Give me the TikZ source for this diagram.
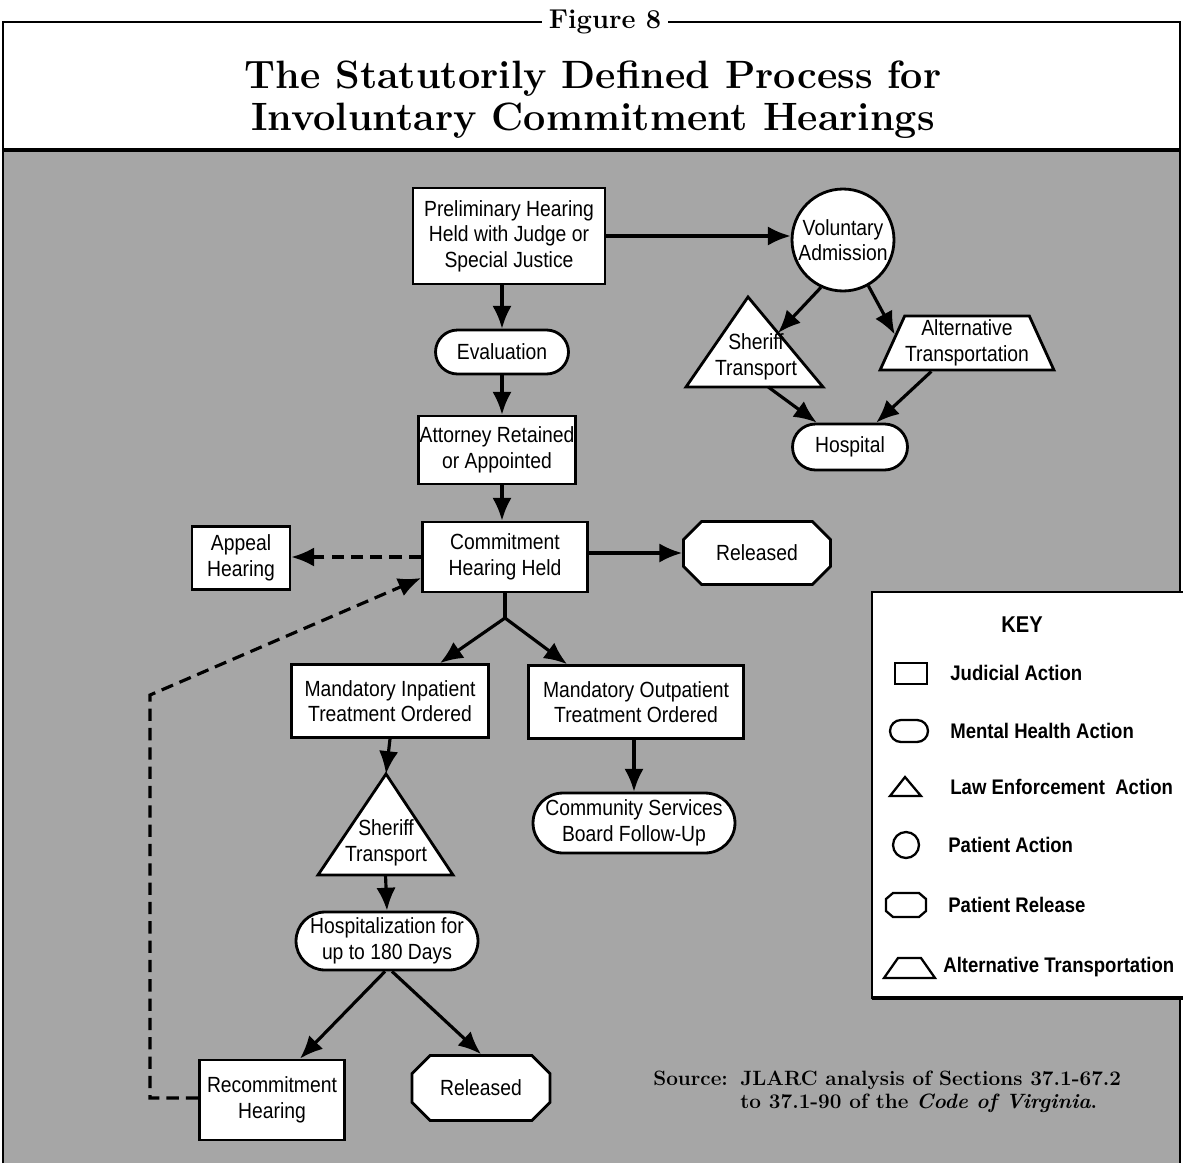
\documentclass[tikz,border=0pt]{standalone}
\usepackage{fontspec}
\usepackage{tikz}
\usetikzlibrary{shapes.geometric,shapes.misc,arrows.meta,calc}
\newfontfamily\boxfont{Liberation Sans}[FakeStretch=0.88]

\tikzset{
  box/.style={draw, line width=1.6pt, fill=white, align=center, inner sep=0pt,
    font=\boxfont\fontsize{12.5}{14.5}\selectfont},
  judicial/.style={box, rectangle},
  mental/.style={box, rounded rectangle},
  patient/.style={box, circle},
  release/.style={box, chamfered rectangle, chamfered rectangle xsep=0.45cm,
    chamfered rectangle ysep=0.2cm},
  altrans/.style={box, trapezium, trapezium left angle=62, trapezium right angle=62,
    trapezium stretches=true},
  tri/.style={draw, line width=1.6pt, fill=white, line join=miter},
  lawtext/.style={align=center, inner sep=0pt, font=\boxfont\fontsize{12.5}{14.5}\selectfont},
  flow/.style={line width=1.8pt, -{Latex[length=13pt,width=11pt]}},
  dashflow/.style={flow, dash pattern=on 7pt off 4pt},
  keytext/.style={anchor=west, inner sep=0pt, font=\boxfont\bfseries\fontsize{12}{14}\selectfont},
  keyicon/.style={draw, line width=1.3pt, fill=white},
}

\begin{document}
\begin{tikzpicture}[x=0.02cm, y=-0.02cm]
    \useasboundingbox (0,0) rectangle (1183,1163);
    % frame, title and grey field
    \fill[black!35] (3,152) rectangle (1180,1163);
    \draw[line width=1.6pt] (3,1163) -- (3,22) -- (1180,22) -- (1180,1163);
    \draw[line width=1.8pt] (3,150) -- (1180,150);
    \node[fill=white, inner sep=4pt, font=\bfseries\fontsize{15.5}{17}\selectfont] (fig) at (605,22) {Figure 8};
    \node[align=center, font=\bfseries\fontsize{22.5}{24}\selectfont] (title) at (593,100)
      {The Statutorily Defined Process for\\Involuntary Commitment Hearings};

    % main column
    \node[judicial, minimum width=3.84cm, minimum height=1.92cm] (prelim) at (509,236)
      {Preliminary Hearing\\Held with Judge or\\Special Justice};
    \node[mental, minimum width=2.66cm, minimum height=0.88cm] (eval) at (502,352) {Evaluation};
    \node[judicial, minimum width=3.14cm, minimum height=1.36cm] (atty) at (497,450)
      {Attorney Retained\\or Appointed};
    \node[judicial, minimum width=3.3cm, minimum height=1.4cm] (comm) at (505,557)
      {Commitment\\Hearing Held};
    \node[judicial, minimum width=1.96cm, minimum height=1.26cm] (appeal) at (241,558)
      {Appeal\\Hearing};
    \node[release, minimum width=2.94cm, minimum height=1.26cm] (rel1) at (757,553) {Released};
    \node[judicial, minimum width=3.94cm, minimum height=1.46cm] (inpat) at (390,701)
      {Mandatory Inpatient\\Treatment Ordered};
    \node[judicial, minimum width=4.3cm, minimum height=1.46cm] (outpat) at (636,702)
      {Mandatory Outpatient\\Treatment Ordered};
    \node[mental, minimum width=4.04cm, minimum height=1.2cm] (csb) at (634,823)
      {Community Services\\Board Follow-Up};
    \node[mental, minimum width=3.64cm, minimum height=1.16cm] (hosp180) at (387,941)
      {Hospitalization for\\up to 180 Days};
    \node[judicial, minimum width=2.9cm, minimum height=1.6cm] (recomm) at (272,1100)
      {Recommitment\\Hearing};
    \node[release, minimum width=2.76cm, minimum height=1.3cm] (rel2) at (481,1088) {Released};

    % voluntary branch
    \node[patient, minimum size=2.04cm] (vol) at (843,240) {Voluntary\\Admission};
    \node[altrans, minimum width=3.5cm, minimum height=1.08cm] (alt) at (967,343)
      {Alternative\\Transportation};
    \node[mental, minimum width=2.3cm, minimum height=0.92cm] (hosp) at (850,447) {Hospital};

    % sheriff transport triangles
    \coordinate (s1top) at (748,297);
    \coordinate (s1left) at (686,387);
    \coordinate (s1right) at (823,387);
    \draw[tri] (s1top) -- (s1left) -- (s1right) -- cycle;
    \node[lawtext] (sher1) at (756,357) {Sheriff\\Transport};
    \coordinate (s2top) at (386,774);
    \coordinate (s2left) at (318,875);
    \coordinate (s2right) at (453,875);
    \draw[tri] (s2top) -- (s2left) -- (s2right) -- cycle;
    \node[lawtext] (sher2) at (386,843) {Sheriff\\Transport};

    % connectors
    \draw[flow] (prelim.east) -- (vol.west |- prelim.east);
    \draw[flow] (eval.north |- prelim.south) -- (eval.north);
    \draw[flow] (eval.south) -- (atty.north -| eval.south);
    \draw[flow] (atty.south -| eval.south) -- (comm.north -| eval.south);
    \draw[flow] (vol.-115) -- ($(s1top)!0.4!(s1right)$);
    \draw[flow] (vol.-61) -- ($(alt.top left corner)!0.35!(alt.bottom left corner)$);
    \draw[flow] ($(s1left)!0.6!(s1right)$) -- (hosp);
    \draw[flow] ($(alt.bottom left corner)!0.3!(alt.bottom right corner)$) -- (hosp);
    \draw[dashflow] (comm.west) -- (appeal.east |- comm.west);
    \draw[flow] ([yshift=0.08cm]comm.east) -- ([yshift=0.08cm]comm.east -| rel1.west);
    \coordinate (split) at (505,618);
    \draw[line width=1.8pt] (comm.south) -- (split);
    \draw[flow] (split) -- ([xshift=1cm]inpat.north);
    \draw[flow] (split) -- ([xshift=-1.38cm]outpat.north);
    \draw[flow] (inpat.south) -- (s2top);
    \draw[flow] (outpat.south -| csb.north) -- (csb.north);
    \draw[flow] ($(s2left)!0.5!(s2right)$) -- (hosp180.north);
    \draw[flow] ([xshift=-0.04cm]hosp180.south) -- ([xshift=0.56cm]recomm.north);
    \draw[flow] ([xshift=0.1cm]hosp180.south) -- (rel2.north);
    \coordinate (loopfoot) at (150,1098);
    \coordinate (loopbend) at (150,695);
    \draw[dashflow] (recomm.west |- loopfoot) -- (loopfoot) -- (loopbend) -- ([yshift=-0.42cm]comm.west);

    % key
    \draw[fill=white, line width=1.5pt] (872,592) rectangle (1195,998);
    \draw[line width=2.4pt] (872,998) -- (1195,998);
    \node[font=\boxfont\bfseries\fontsize{13}{15}\selectfont] (keyhead) at (1022,625) {KEY};
    \draw[keyicon] (895,663) rectangle (927,684);
    \node[keyicon, rounded rectangle, minimum width=0.76cm, minimum height=0.44cm, inner sep=0pt] (keymh) at (909,731) {};
    \draw[keyicon, line join=miter] (890,796) -- (905,777) -- (921,796) -- cycle;
    \node[keyicon, circle, minimum size=0.52cm, inner sep=0pt] (keypa) at (906,845) {};
    \draw[keyicon] (893,893) -- (919,893) -- (926,899) -- (926,911) -- (919,917)
      -- (893,917) -- (886,911) -- (886,899) -- cycle;
    \draw[keyicon] (884,978) -- (898,958) -- (921,958) -- (935,978) -- cycle;
    \foreach \y/\x/\txt in {673/950/Judicial Action, 731/950/Mental Health Action,
      787/950/Law Enforcement\ \ Action, 845/948/Patient Action,
      905/948/Patient Release, 967/943/Alternative Transportation}
    \node[keytext] (key\y) at (\x,\y) {\txt};

    % source note
    \node[anchor=west, inner sep=0pt, font=\bfseries\fontsize{11.8}{13}\selectfont] (source) at (653,1092)
      {\begin{tabular}{@{}l@{\hspace{0.6em}}l@{}}
       Source: & JLARC analysis of Sections 37.1-67.2\\
               & to 37.1-90 of the \textit{Code of Virginia}.
       \end{tabular}};
\end{tikzpicture}
\end{document}
